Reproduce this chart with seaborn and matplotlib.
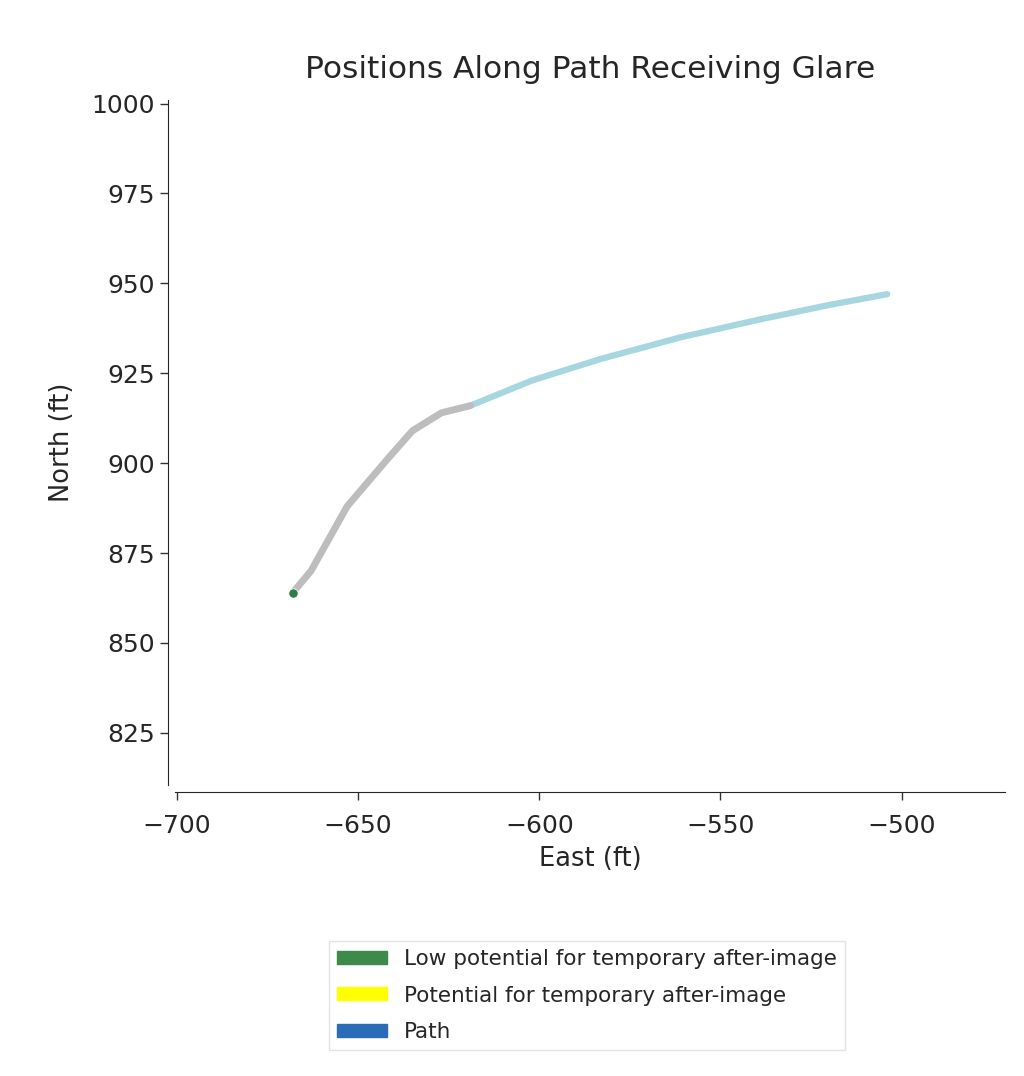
import pandas as pd
import matplotlib
matplotlib.use("Agg")
import matplotlib.pyplot as plt
import matplotlib.patches as mpatches
import seaborn as sns

# Données
glare_east = [-668, -663, -653, -642, -635, -627, -619]
glare_north = [864, 870, 888, 901, 909, 914, 916]
path_east = [-619, -602, -583, -561, -539, -520, -504]
path_north = [916, 923, 929, 935, 940, 944, 947]
start_east = [-668]
start_north = [864]

legend_labels = ["Low potential for temporary after-image",
                 "Potential for temporary after-image",
                 "Path"]
legend_colors = ["#3d8a4a", "#ffff00", "#2b6cb8"]

sns.set_style("white")
plt.rcParams['font.family'] = ['DejaVu Sans']

fig = plt.figure(figsize=(10.24, 10.76), dpi=100)
ax = fig.add_axes([175 / 1024, 1 - 785 / 1076, 830 / 1024, 685 / 1076])

glare = pd.DataFrame({"east": glare_east, "north": glare_north})
path = pd.DataFrame({"east": path_east, "north": path_north})

sns.lineplot(data=path, x="east", y="north", color="#a6d6df", lw=4.5, sort=False, ax=ax)
sns.lineplot(data=glare, x="east", y="north", color="#bdbdbd", lw=5, sort=False, ax=ax)
sns.scatterplot(x=start_east, y=start_north, color="#2e7d4a", s=45, ax=ax, zorder=5)

ax.set_xlim(-700.5, -471.5)
ax.set_ylim(810.5, 1001)
ax.set_xticks([-700, -650, -600, -550, -500])
ax.set_yticks([825, 850, 875, 900, 925, 950, 975, 1000])
ax.tick_params(labelsize=18, length=6, width=1, color="#333333", left=True, bottom=True)
ax.tick_params(axis="x", pad=10)
ax.set_xlabel("East (ft)", fontsize=18.5, labelpad=6)
ax.set_ylabel("North (ft)", fontsize=18.5, labelpad=12)
ax.set_title("Positions Along Path Receiving Glare", fontsize=22.5, pad=16)
sns.despine(ax=ax, offset=5)

handles = [mpatches.Patch(color=c, label=l) for c, l in zip(legend_colors, legend_labels)]
fig.legend(handles=handles, loc="upper center", bbox_to_anchor=(587 / 1024, 1 - 930 / 1076),
           fontsize=15.5, frameon=True, fancybox=False, edgecolor="#dddddd",
           handlelength=2.3, handleheight=0.55, labelspacing=0.75)

fig.savefig("out.png", dpi=100)
